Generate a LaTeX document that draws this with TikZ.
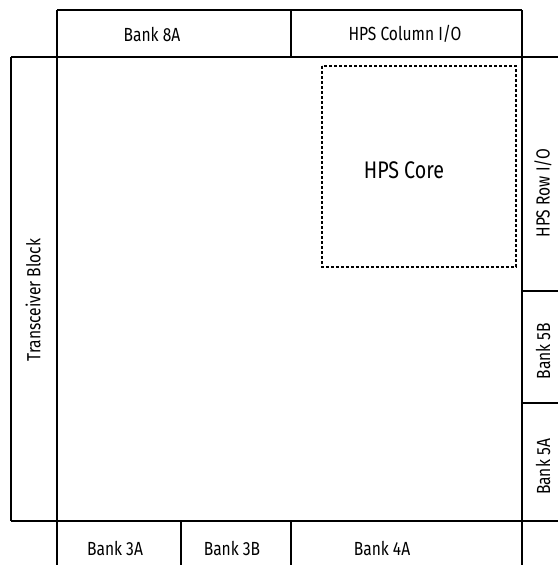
\documentclass[tikz,border=0pt]{standalone}
\usepackage{fontspec}
\setmainfont{Fira Sans}[FakeStretch=0.82]
\begin{document}
\begin{tikzpicture}[x=1pt,y=-1pt,
  edge/.style={line width=1.2pt,black},
  lbl/.style={inner sep=0pt,font=\fontsize{19}{22}\selectfont},
  corelbl/.style={inner sep=0pt,font=\fontsize{24}{28}\selectfont},
  corebox/.style={line width=2.6pt,dash pattern=on 2.6pt off 2.4pt}]
\useasboundingbox (0,0) rectangle (558,565);
% frame coordinates
\coordinate (tl) at (57,10);
\coordinate (tr) at (522,10);
\coordinate (bl) at (57,565);
\coordinate (br) at (522,565);
% top row
\draw[edge] (57,10) -- (522,10);
\draw[edge] (291,10) -- (291,57);
% main horizontal lines
\draw[edge] (11,57) -- (558,57);
\draw[edge] (11,521) -- (558,521);
% main vertical lines
\draw[edge] (tl) -- (bl);
\draw[edge] (tr) -- (br);
\draw[edge] (11,57) -- (11,521);
% right column separators
\draw[edge] (522,291) -- (558,291);
\draw[edge] (522,403) -- (558,403);
% bottom row separators
\draw[edge] (181,521) -- (181,565);
\draw[edge] (291,521) -- (291,565);
% HPS core
\draw[corebox] (322,66) rectangle (516,267);
% labels
\node[lbl] (b8a) at (152,34) {Bank 8A};
\node[lbl] (hpscol) at (405,34) {HPS Column I/O};
\node[lbl,rotate=90] (trans) at (33,300) {Transceiver Block};
\node[corelbl] (core) at (404,170) {HPS Core};
\node[lbl,rotate=90] (hpsrow) at (543,193) {HPS Row I/O};
\node[lbl,rotate=90] (b5b) at (543,351) {Bank 5B};
\node[lbl,rotate=90] (b5a) at (543,467) {Bank 5A};
\node[lbl] (b3a) at (115,548) {Bank 3A};
\node[lbl] (b3b) at (232,548) {Bank 3B};
\node[lbl] (b4a) at (382,548) {Bank 4A};
\end{tikzpicture}
\end{document}
